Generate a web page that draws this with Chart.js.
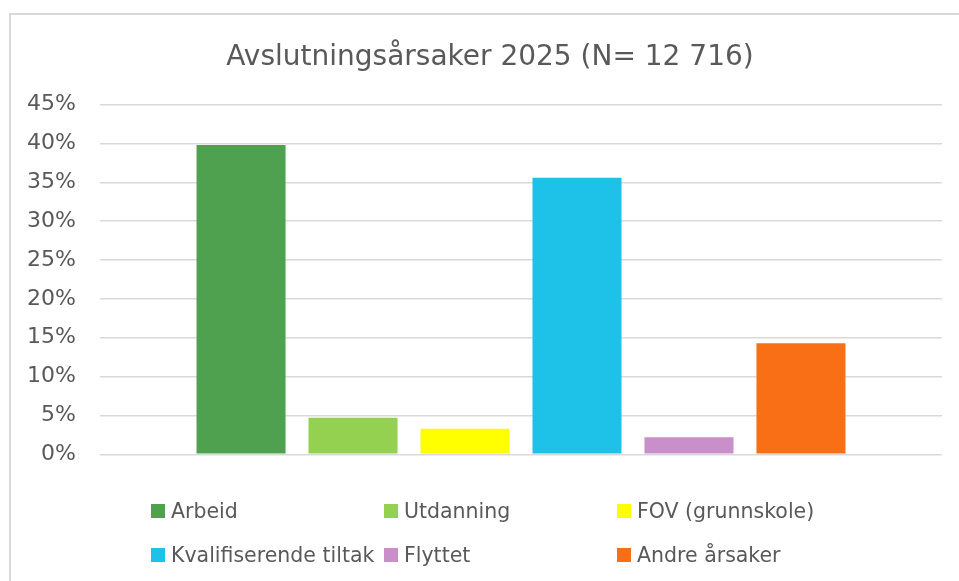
<!DOCTYPE html>
<html>
<head>
<meta charset="utf-8">
<script src="https://cdn.jsdelivr.net/npm/chart.js"></script>
<style>
  html, body { margin:0; padding:0; background:#fff; overflow:hidden; width:959px; height:581px; }
  #frame { position:absolute; left:9px; top:13px; width:1000px; height:600px;
           border-left:2px solid #d9d9d9; border-top:2px solid #d9d9d9; }
  #chart { position:absolute; left:0; top:0; }
  .legend-item { position:absolute; display:flex; align-items:center; white-space:nowrap;
                 font-family:"DejaVu Sans"; font-size:20.5px; color:#595959; }
  .legend-item span.box { display:inline-block; width:14px; height:14px; margin-right:6px; }
</style>
</head>
<body>
<div id="frame">
  <canvas id="chart" width="958" height="566"></canvas>
</div>
<div id="legend"></div>
<script>
// data
const titleText = "Avslutningsårsaker 2025 (N= 12 716)";
const categories = ["2025"];
const seriesNames = ["Arbeid", "Utdanning", "FOV (grunnskole)", "Kvalifiserende tiltak", "Flyttet", "Andre årsaker"];
const seriesValues = [39.8, 4.7, 3.3, 35.6, 2.2, 14.3];
const seriesColors = ["#50a14f", "#94d151", "#ffff00", "#1ec1e8", "#c88fca", "#f86f16"];
const yTicks = [0, 5, 10, 15, 20, 25, 30, 35, 40, 45];

const textColor = "#595959";
Chart.defaults.font.family = "DejaVu Sans";
Chart.defaults.color = textColor;

const datasets = seriesNames.map((name, i) => ({
    label: name,
    data: [seriesValues[i]],
    backgroundColor: seriesColors[i],
    borderWidth: 0,
    categoryPercentage: 0.798,
    barPercentage: 0.795
}));

const chart = new Chart(document.getElementById("chart"), {
    type: "bar",
    data: { labels: categories, datasets: datasets },
    options: {
        responsive: false,
        animation: false,
        layout: { padding: { left: 0, right: 0, top: 0, bottom: 126.7 } },
        plugins: {
            legend: { display: false },
            tooltip: { enabled: false },
            title: {
                display: true,
                text: titleText,
                color: textColor,
                font: { size: 28, weight: "normal" },
                padding: { top: 26, bottom: 30.1 }
            }
        },
        scales: {
            x: { display: false },
            y: {
                min: yTicks[0],
                max: yTicks[yTicks.length - 1],
                afterBuildTicks: s => { s.ticks = yTicks.map(v => ({ value: v })); },
                afterFit: s => { s.width = 89; },
                border: { display: false },
                grid: { color: "#d9d9d9", lineWidth: 1.5, drawTicks: false },
                ticks: {
                    padding: 24,
                    color: textColor,
                    font: { size: 22 },
                    callback: v => v + "%"
                }
            },
            // spacer so the plot stops where the original does
            y2: {
                position: "right",
                border: { display: false },
                grid: { display: false },
                ticks: { display: false },
                afterFit: s => { s.width = 27; }
            }
        }
    }
});

// legend laid out in three columns like the original
const legendCols = [151, 384, 617];
const legendRows = [511, 555];
const legendEl = document.getElementById("legend");
chart.data.datasets.forEach((ds, i) => {
    const item = document.createElement("div");
    item.className = "legend-item";
    item.style.left = legendCols[i % 3] + "px";
    item.style.top = (legendRows[Math.floor(i / 3)] - 13) + "px";
    item.style.height = "26px";
    item.innerHTML = `<span class="box" style="background:${ds.backgroundColor}"></span>${ds.label}`;
    legendEl.appendChild(item);
});
</script>
</body>
</html>
